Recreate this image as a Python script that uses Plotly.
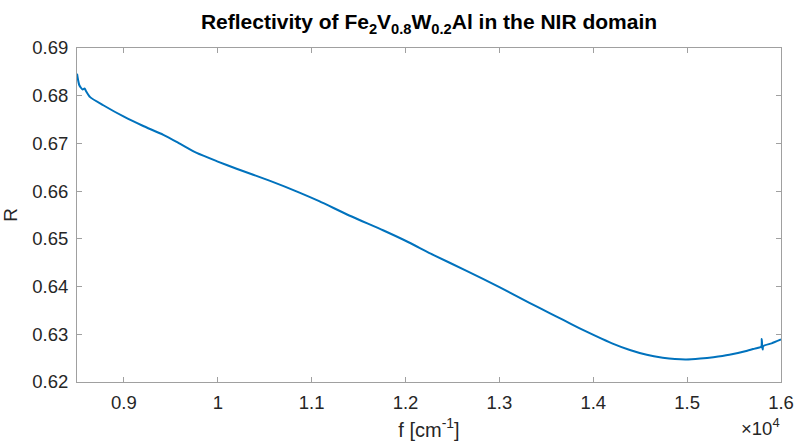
import plotly.graph_objects as go

freq = [8500, 8525, 8560, 8580, 8595, 8640, 8780, 9000, 9200, 9420, 9600, 9775,
        10000, 10200, 10550, 10870, 11080, 11400, 11760, 12000, 12300, 12650,
        13000, 13320, 13540, 13680, 13850, 14030, 14200, 14390, 14570, 14740,
        14870, 14990, 15140, 15280, 15450, 15630, 15720, 15790, 15795, 15800,
        15805, 15810, 15900, 16000]
refl = [0.6846, 0.6822, 0.6813, 0.6815, 0.6810, 0.6797, 0.6780, 0.6756, 0.6737,
        0.6718, 0.6699, 0.6680, 0.6662, 0.6647, 0.6622, 0.6597, 0.6579, 0.6549,
        0.6518, 0.6496, 0.6466, 0.6433, 0.6399, 0.6366, 0.6344, 0.6330, 0.6313,
        0.6296, 0.6281, 0.6267, 0.6257, 0.6251, 0.6248, 0.6247, 0.6249, 0.6252,
        0.6257, 0.6265, 0.6270, 0.6274, 0.6290, 0.6274, 0.6268, 0.6275, 0.6281,
        0.6289]

x_tickvals = [9000, 10000, 11000, 12000, 13000, 14000, 15000, 16000]
x_ticktext = ["0.9", "1", "1.1", "1.2", "1.3", "1.4", "1.5", "1.6"]
y_tickvals = [0.62, 0.63, 0.64, 0.65, 0.66, 0.67, 0.68, 0.69]
y_ticktext = ["0.62", "0.63", "0.64", "0.65", "0.66", "0.67", "0.68", "0.69"]

font_family = "Liberation Sans, Arial, sans-serif"
text_color = "#262626"
axis_color = "#a0a0a0"

fig = go.Figure()
fig.add_trace(go.Scatter(x=freq, y=refl, mode="lines",
                         line=dict(color="#0072BD", width=2, shape="spline", smoothing=0.6),
                         showlegend=False, hoverinfo="skip"))

fig.update_layout(
    width=795, height=443,
    margin=dict(l=77, r=14, t=48, b=61, autoexpand=False),
    paper_bgcolor="white", plot_bgcolor="white",
    font=dict(family=font_family, color=text_color, size=18),
    title=dict(text="<b>Reflectivity of Fe<sub>2</sub>V<sub>0.8</sub>W<sub>0.2</sub>Al in the NIR domain</b>",
               x=(77 + 781) / 2 / 795, xanchor="center",
               y=1 - 22 / 443, yanchor="middle", yref="container",
               font=dict(size=21, color="#000000", family=font_family)),
    xaxis=dict(range=[8500, 16000], tickvals=x_tickvals, ticktext=x_ticktext,
               automargin=False,
               showgrid=False, zeroline=False, showline=True, linecolor=axis_color,
               linewidth=1, mirror="ticks", ticks="inside", ticklen=5,
               tickcolor=axis_color, ticklabelstandoff=4,
               tickfont=dict(size=18.5, color=text_color),
               title=dict(text="f [cm<sup>-1</sup>]", standoff=10,
                          font=dict(size=20, color=text_color))),
    yaxis=dict(range=[0.62, 0.69], tickvals=y_tickvals, ticktext=y_ticktext,
               automargin=False,
               showgrid=False, zeroline=False, showline=True, linecolor=axis_color,
               linewidth=1, mirror="ticks", ticks="inside", ticklen=5,
               tickcolor=axis_color, ticklabelstandoff=4,
               tickfont=dict(size=18.5, color=text_color),
               title=dict(text="R", standoff=10,
                          font=dict(size=19, color=text_color))),
)

fig.add_annotation(text="×10<sup>4</sup>", xref="paper", yref="paper",
                   x=1.0, y=-0.094, xanchor="right", yanchor="top", xshift=1,
                   showarrow=False, font=dict(size=18.5, color=text_color))

fig.write_html("out.html")
